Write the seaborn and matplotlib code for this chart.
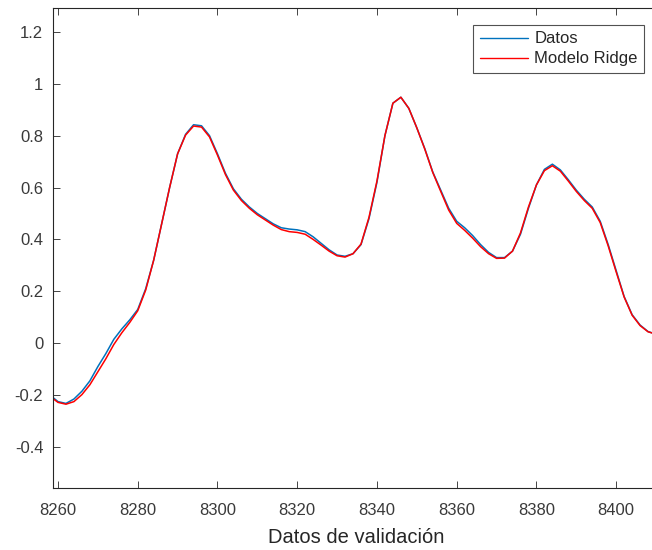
import numpy as np
import pandas as pd
import matplotlib
matplotlib.use("Agg")
import matplotlib.pyplot as plt
import seaborn as sns

# Values (every 2 samples)
muestra = list(range(8258, 8411, 2))

datos = [-0.200, -0.225, -0.232, -0.215, -0.185, -0.145, -0.090, -0.040, 0.015, 0.055,
         0.090, 0.130, 0.210, 0.320, 0.460, 0.600, 0.730, 0.805, 0.842, 0.838,
         0.800, 0.730, 0.655, 0.595, 0.555, 0.525, 0.500, 0.480, 0.460, 0.445,
         0.440, 0.437, 0.430, 0.410, 0.385, 0.360, 0.340, 0.335, 0.345, 0.380,
         0.480, 0.620, 0.800, 0.925, 0.948, 0.905, 0.830, 0.750, 0.660, 0.590,
         0.520, 0.470, 0.445, 0.415, 0.380, 0.350, 0.330, 0.330, 0.355, 0.420,
         0.520, 0.610, 0.670, 0.690, 0.668, 0.630, 0.590, 0.555, 0.525, 0.470,
         0.380, 0.280, 0.180, 0.110, 0.070, 0.045, 0.035]

modelo = [-0.205, -0.228, -0.235, -0.225, -0.198, -0.160, -0.110, -0.060, -0.005, 0.040,
          0.080, 0.125, 0.205, 0.320, 0.460, 0.600, 0.730, 0.802, 0.837, 0.833,
          0.795, 0.725, 0.650, 0.590, 0.550, 0.520, 0.495, 0.475, 0.455, 0.438,
          0.430, 0.427, 0.420, 0.400, 0.378, 0.355, 0.337, 0.332, 0.345, 0.382,
          0.485, 0.625, 0.800, 0.925, 0.948, 0.905, 0.830, 0.748, 0.658, 0.585,
          0.513, 0.462, 0.435, 0.405, 0.372, 0.345, 0.327, 0.328, 0.355, 0.425,
          0.525, 0.610, 0.665, 0.684, 0.663, 0.625, 0.585, 0.550, 0.520, 0.465,
          0.375, 0.275, 0.178, 0.108, 0.068, 0.044, 0.035]

x_ticks = [8260, 8280, 8300, 8320, 8340, 8360, 8380, 8400]
y_ticks = [-0.4, -0.2, 0, 0.2, 0.4, 0.6, 0.8, 1, 1.2]
y_labels = ["-0.4", "-0.2", "0", "0.2", "0.4", "0.6", "0.8", "1", "1.2"]

df = pd.DataFrame({
    "x": muestra * 2,
    "y": datos + modelo,
    "serie": ["Datos"] * len(muestra) + ["Modelo Ridge"] * len(muestra),
})

#%%
sns.set_theme(style="ticks")
plt.rcParams["font.family"] = ["Liberation Sans", "DejaVu Sans"]
plt.rcParams["axes.edgecolor"] = "#262626"
plt.rcParams["xtick.color"] = "#262626"
plt.rcParams["ytick.color"] = "#262626"

fig = plt.figure(figsize=(6.52, 5.5), dpi=100)
ax = fig.add_axes([0.0813, 0.1127, 0.931, 0.8728])

palette = {"Datos": "#0072BD", "Modelo Ridge": "#FF0000"}
sns.lineplot(data=df, x="x", y="y", hue="serie", palette=palette,
             linewidth=1.1, ax=ax, legend=False)

ax.set_xlim(8258.75, 8411)
ax.set_ylim(-0.558, 1.292)
ax.set_xticks(x_ticks)
ax.set_yticks(y_ticks)
ax.set_yticklabels(y_labels)
ax.tick_params(axis="both", direction="in", length=5, width=0.6, labelsize=12,
               top=True, right=True, labelcolor="#3a3a3a")
ax.tick_params(axis="x", pad=11)
ax.tick_params(axis="y", pad=7)
for s in ax.spines.values():
    s.set_linewidth(0.8)

ax.set_xlabel("Datos de validación", fontsize=14.5, color="#262626", labelpad=7)
ax.set_ylabel("")

handles = [plt.Line2D([], [], color=palette[k], lw=1.0) for k in palette]
leg = fig.legend(handles, list(palette.keys()), loc="upper right",
                 bbox_to_anchor=(0.988, 0.955), fontsize=12, frameon=True,
                 fancybox=False, edgecolor="#262626", handlelength=2.9,
                 borderpad=0.4, labelspacing=0.3, handletextpad=0.35,
                 borderaxespad=0)
leg.get_frame().set_linewidth(0.8)

fig.savefig("out.png", dpi=100, facecolor="white")
